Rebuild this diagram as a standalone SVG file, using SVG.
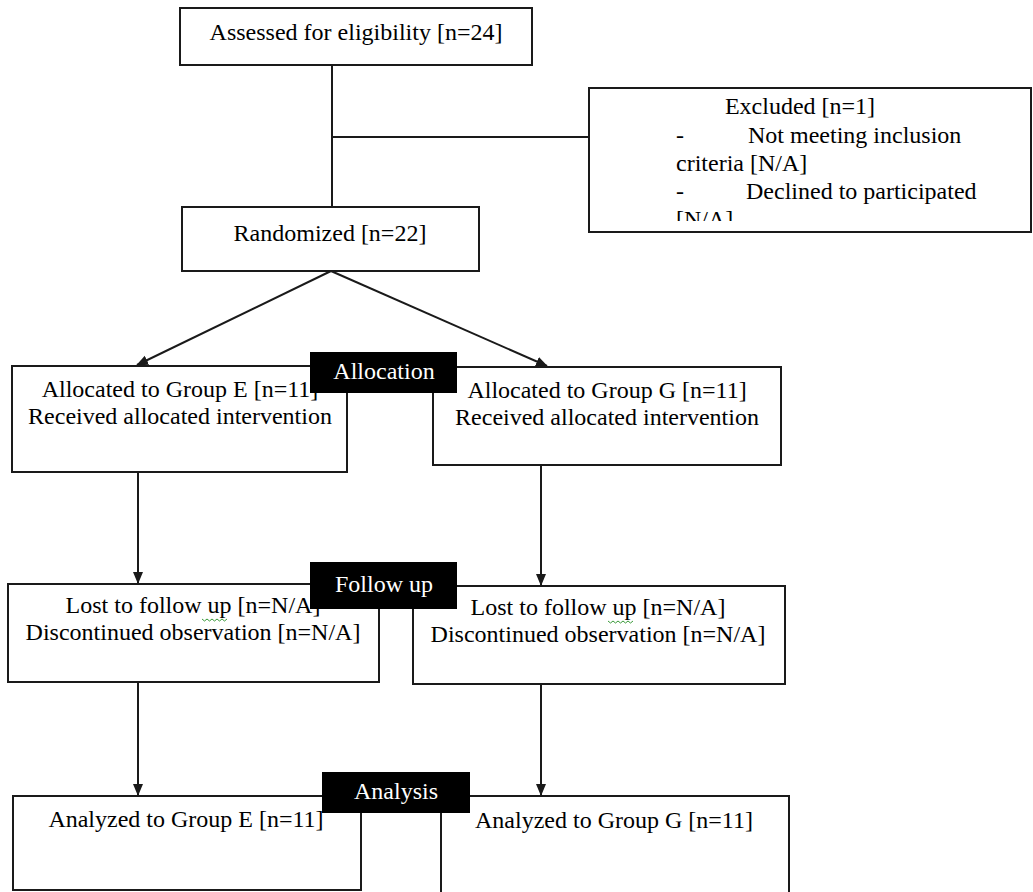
<svg xmlns="http://www.w3.org/2000/svg" width="1033" height="892" viewBox="0 0 1033 892">
<defs>
<style>
.box{fill:#fff;stroke:#1a1a1a;stroke-width:2}
.lbl{fill:#000}
.t{font-family:"Liberation Serif","Times New Roman",serif;font-size:24px;fill:#000}
.tc{text-anchor:middle}
.w{fill:#fff}
.ln{stroke:#1a1a1a;stroke-width:2;fill:none}
.sq{stroke:#3a9a3a;stroke-width:1;fill:none}
</style>
<marker id="arr" viewBox="0 0 12 12" refX="11" refY="6" markerWidth="12" markerHeight="12" orient="auto" markerUnits="userSpaceOnUse">
<path d="M0,1 L12,6 L0,11 z" fill="#1a1a1a"/>
</marker>
<clipPath id="exclip"><rect x="589" y="88" width="442" height="133"/></clipPath>
</defs>
<rect width="1033" height="892" fill="#fff"/>

<g id="connectors">
<path class="ln" d="M332,65 V207"/>
<path class="ln" d="M332,137 H589"/>
<path class="ln" d="M331,271 L137,365" marker-end="url(#arr)"/>
<path class="ln" d="M331,271 L547,366" marker-end="url(#arr)"/>
<path class="ln" d="M138,472 V583" marker-end="url(#arr)"/>
<path class="ln" d="M541,465 V585" marker-end="url(#arr)"/>
<path class="ln" d="M138,682 V795" marker-end="url(#arr)"/>
<path class="ln" d="M541,684 V795" marker-end="url(#arr)"/>
</g>

<g id="assessed">
<rect class="box" x="180" y="8" width="352" height="57"/>
<text class="t tc" x="356" y="40">Assessed for eligibility [n=24]</text>
</g>

<g id="excluded">
<rect class="box" x="589" y="88" width="442" height="144"/>
<g clip-path="url(#exclip)">
<text class="t tc" x="800" y="114">Excluded [n=1]</text>
<text class="t" x="676" y="143">-</text>
<text class="t" x="748" y="143">Not meeting inclusion</text>
<text class="t" x="676" y="171">criteria [N/A]</text>
<text class="t" x="676" y="199">-</text>
<text class="t" x="746" y="199">Declined to participated</text>
<text class="t" x="676" y="227">[N/A]</text>
</g>
</g>

<g id="randomized">
<rect class="box" x="182" y="207" width="297" height="64"/>
<text class="t tc" x="330" y="241">Randomized [n=22]</text>
</g>

<g id="alloc-e">
<rect class="box" x="12" y="366" width="335" height="106"/>
<text class="t tc" x="180" y="397">Allocated to Group E [n=11]</text>
<text class="t tc" x="180" y="424">Received allocated intervention</text>
</g>

<g id="alloc-g">
<rect class="box" x="433" y="367" width="348" height="98"/>
<text class="t tc" x="607" y="398">Allocated to Group G [n=11]</text>
<text class="t tc" x="607" y="425">Received allocated intervention</text>
</g>

<g id="allocation-label">
<rect class="lbl" x="310" y="352" width="147" height="41"/>
<text class="t tc w" x="384" y="379">Allocation</text>
</g>

<g id="lost-e">
<rect class="box" x="8" y="584" width="371" height="98"/>
<text class="t tc" x="193" y="613">Lost to follow up  [n=N/A]</text>
<path class="sq" d="M202,619 l2.5,2 l2.5,-2 l2.5,2 l2.5,-2 l2.5,2 l2.5,-2 l2.5,2 l2.5,-2 l2.5,2 l2.5,-2"/>
<text class="t tc" x="193" y="640">Discontinued observation [n=N/A]</text>
</g>

<g id="lost-g">
<rect class="box" x="413" y="586" width="372" height="98"/>
<text class="t tc" x="598" y="615">Lost to follow up  [n=N/A]</text>
<path class="sq" d="M608,621 l2.5,2 l2.5,-2 l2.5,2 l2.5,-2 l2.5,2 l2.5,-2 l2.5,2 l2.5,-2 l2.5,2 l2.5,-2"/>
<text class="t tc" x="598" y="642">Discontinued observation [n=N/A]</text>
</g>

<g id="followup-label">
<rect class="lbl" x="310" y="562" width="147" height="47"/>
<text class="t tc w" x="384" y="592">Follow up</text>
</g>

<g id="analyzed-e">
<rect class="box" x="13" y="796" width="348" height="94"/>
<text class="t tc" x="186" y="827">Analyzed to Group E [n=11]</text>
</g>

<g id="analyzed-g">
<rect class="box" x="441" y="796" width="348" height="110"/>
<text class="t tc" x="614" y="828">Analyzed to Group G [n=11]</text>
</g>

<g id="analysis-label">
<rect class="lbl" x="322" y="772" width="148" height="41"/>
<text class="t tc w" x="396" y="799">Analysis</text>
</g>
</svg>
